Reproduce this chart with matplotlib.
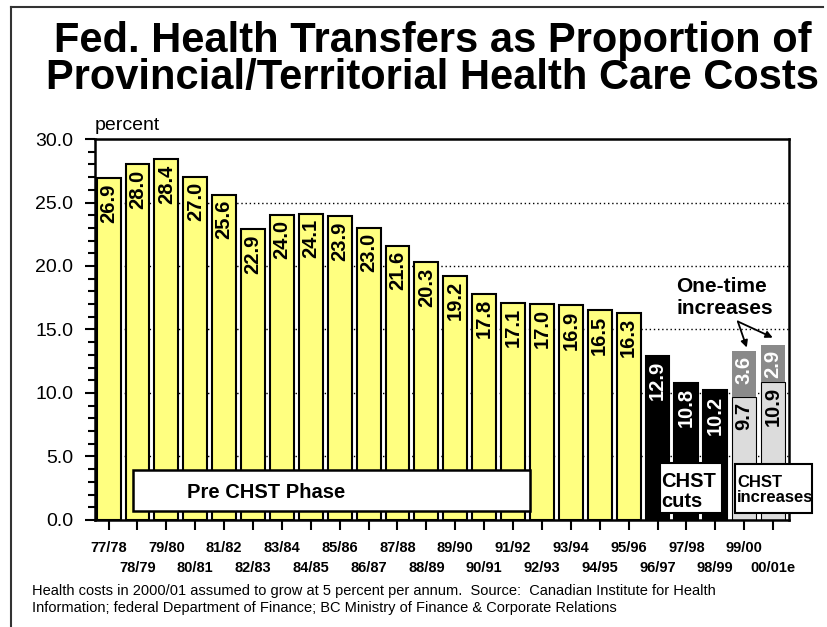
import matplotlib
matplotlib.use('Agg')
import matplotlib.pyplot as plt
from matplotlib.patches import Rectangle
from matplotlib.lines import Line2D
from matplotlib.ticker import MultipleLocator

plt.rcParams['font.family'] = ['Liberation Sans', 'DejaVu Sans']

years = ['77/78', '78/79', '79/80', '80/81', '81/82', '82/83', '83/84', '84/85',
         '85/86', '86/87', '87/88', '88/89', '89/90', '90/91', '91/92', '92/93',
         '93/94', '94/95', '95/96', '96/97', '97/98', '98/99', '99/00', '00/01e']
pre_chst = [26.9, 28.0, 28.4, 27.0, 25.6, 22.9, 24.0, 24.1, 23.9, 23.0,
            21.6, 20.3, 19.2, 17.8, 17.1, 17.0, 16.9, 16.5, 16.3]
chst_cuts = [12.9, 10.8, 10.2]
chst_base = [9.7, 10.9]
one_time = [3.6, 2.9]

fig = plt.figure(figsize=(8.27, 6.27), dpi=100)
ax = fig.add_axes([0.1149, 0.1707, 0.954 - 0.1149, 0.7783 - 0.1707])

w = 0.83
x_pre = list(range(len(pre_chst)))
x_cut = list(range(len(pre_chst), len(pre_chst) + len(chst_cuts)))
x_inc = list(range(x_cut[-1] + 1, x_cut[-1] + 1 + len(chst_base)))

ax.bar(x_pre, pre_chst, w, color='#ffff80', edgecolor='black', linewidth=1.5, zorder=2)
ax.bar(x_cut, chst_cuts, w, color='black', edgecolor='black', linewidth=1.5, zorder=2)
ax.bar(x_inc, chst_base, w, color='#dcdcdc', edgecolor='black', linewidth=0.8, zorder=2)
ax.bar(x_inc, one_time, w, bottom=chst_base, color='#8a8a8a', linewidth=0, zorder=2)

# value labels
lab_kw = dict(rotation=90, ha='center', va='top', fontsize=14.5, fontweight='bold', zorder=4)
for xi, v in zip(x_pre, pre_chst):
    ax.text(xi, v - 0.4, '%.1f' % v, color='black', **lab_kw)
for xi, v in zip(x_cut, chst_cuts):
    ax.text(xi, v - 0.4, '%.1f' % v, color='white', **lab_kw)
for xi, b, t in zip(x_inc, chst_base, one_time):
    ax.text(xi, b - 0.4, '%.1f' % b, color='black', **lab_kw)
    ax.text(xi, b + t - 0.4, '%.1f' % t, color='white', **lab_kw)

ax.set_xlim(-0.47, 23.55)
ax.set_ylim(0, 30)
ax.yaxis.set_major_locator(MultipleLocator(5))
ax.yaxis.set_minor_locator(MultipleLocator(1))
ax.yaxis.set_major_formatter(matplotlib.ticker.FormatStrFormatter('%.1f'))
ax.set_xticks(range(len(years)))
ax.set_xticklabels(years, fontsize=10.5, fontweight='bold')
ax.tick_params(axis='y', which='major', direction='out', length=7.5, width=1.5,
               labelsize=14, pad=8)
ax.tick_params(axis='y', which='minor', direction='out', length=5, width=1.5)
ax.tick_params(axis='x', direction='out', length=7.5, width=1.5, pad=8)
for i, tk in enumerate(ax.xaxis.get_major_ticks()):
    if i % 2 == 1:
        tk.set_pad(22)
for s in ax.spines.values():
    s.set_linewidth(1.8)
for gy in [5, 10, 15, 20, 25]:
    ax.axhline(gy, color='black', linestyle=(0, (1, 2)), linewidth=1, zorder=1)

# phase boxes
ax.add_patch(Rectangle((0.85, 0.71), 14.58 - 0.85, 3.95 - 0.71, facecolor='white',
                       edgecolor='black', linewidth=1.8, zorder=5, clip_on=False))
ax.text(5.45, 2.2, 'Pre CHST Phase', ha='center', va='center', fontsize=14.5,
        fontweight='bold', zorder=6)
ax.add_patch(Rectangle((19.08, 0.55), 21.23 - 19.08, 4.5 - 0.55, facecolor='white',
                       edgecolor='black', linewidth=1.5, zorder=5, clip_on=False))
ax.text(19.12, 0.7, 'CHST\ncuts', ha='left', va='bottom', fontsize=14.5,
        fontweight='bold', zorder=6, linespacing=1.1)
ax.add_patch(Rectangle((21.68, 0.55), 24.34 - 21.68, 4.42 - 0.55, facecolor='white',
                       edgecolor='black', linewidth=1.5, zorder=5, clip_on=False))
ax.text(21.75, 1.15, 'CHST\nincreases', ha='left', va='bottom', fontsize=12,
        fontweight='bold', zorder=6, linespacing=1.05, clip_on=False)

ax.text(19.65, 15.9, 'One-time\nincreases', ha='left', va='bottom', fontsize=15,
        fontweight='bold', linespacing=1.2)
for ex, ey in [(22.09, 13.58), (22.99, 14.36)]:
    ax.annotate('', xy=(ex, ey), xytext=(21.78, 15.63),
                arrowprops=dict(arrowstyle='-|>', color='black', lw=1.3,
                                mutation_scale=10, shrinkA=0, shrinkB=0))

ax.text(0, 1.012, 'percent', transform=ax.transAxes, ha='left', va='bottom', fontsize=14)

fig.text(0.523, 1 - 52 / 627, 'Fed. Health Transfers as Proportion of', ha='center',
         va='baseline', fontsize=30, fontweight='bold')
fig.text(0.523, 1 - 89 / 627, 'Provincial/Territorial Health Care Costs', ha='center',
         va='baseline', fontsize=30, fontweight='bold')

fig.text(32 / 827, 1 - 595 / 627,
         'Health costs in 2000/01 assumed to grow at 5 percent per annum.  Source:  '
         'Canadian Institute for Health', ha='left', va='baseline', fontsize=10.5)
fig.text(32 / 827, 1 - 612 / 627,
         'Information; federal Department of Finance; BC Ministry of Finance & '
         'Corporate Relations', ha='left', va='baseline', fontsize=10.5)

# outer frame (top and left)
fig.add_artist(Line2D([11 / 827, 823 / 827], [1 - 7 / 627, 1 - 7 / 627],
                      transform=fig.transFigure, color='#333333', linewidth=1.5))
fig.add_artist(Line2D([11 / 827, 11 / 827], [0, 1 - 7 / 627],
                      transform=fig.transFigure, color='#333333', linewidth=1.5))

fig.savefig('out.png', dpi=100)
